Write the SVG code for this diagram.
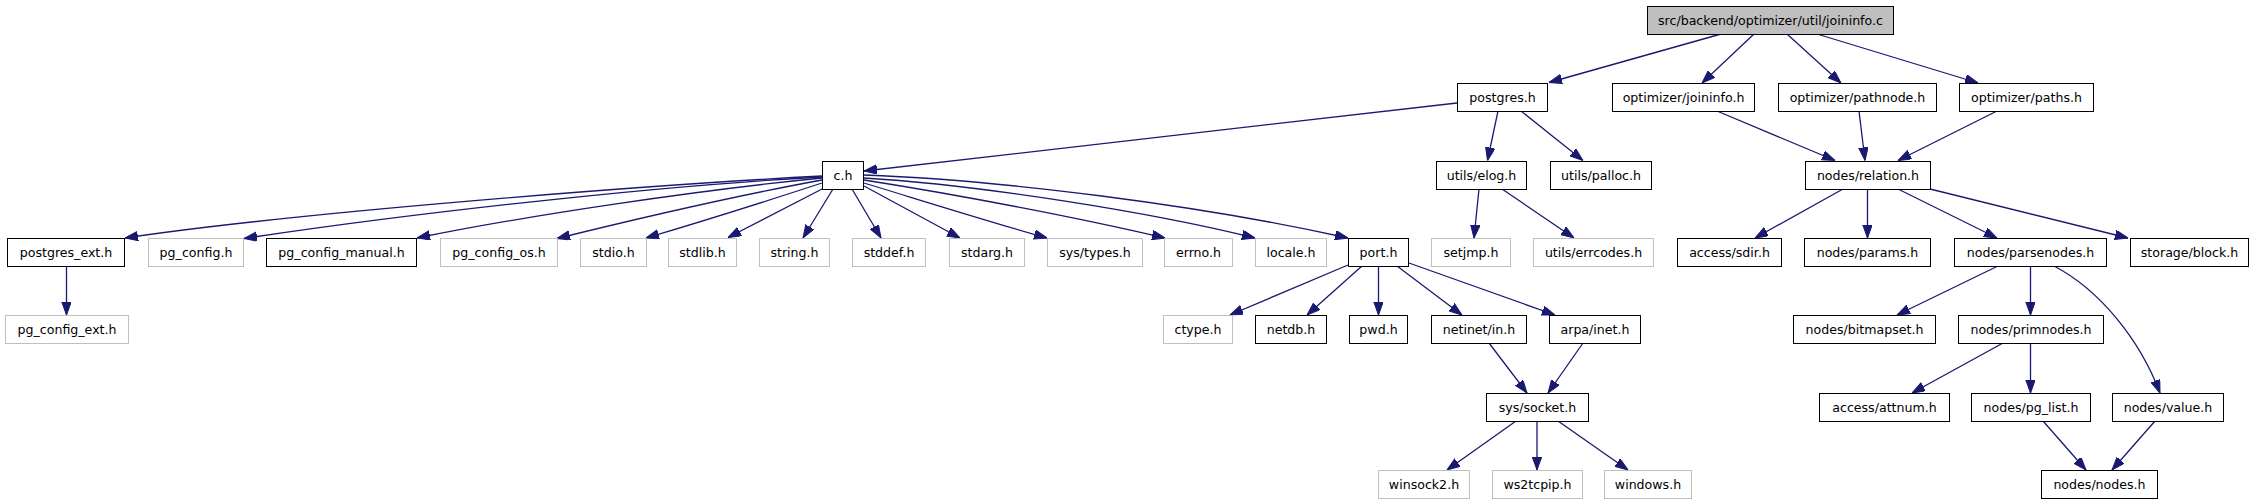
<svg xmlns="http://www.w3.org/2000/svg" width="2256" height="504" viewBox="0 0 2256 504">
<style>
.n rect{fill:#fff;stroke:#000;stroke-width:1}
.g rect{fill:#fff;stroke:#bfbfbf;stroke-width:1}
.r rect{fill:#bfbfbf;stroke:#000;stroke-width:1}
text{font-family:"DejaVu Sans","Liberation Sans",sans-serif;font-size:12.6px;text-anchor:middle;fill:#000}
#edges path{fill:none;stroke:#191970;stroke-width:1.3;marker-end:url(#a)}
</style>
<defs>
<marker id="a" markerWidth="13" markerHeight="10" refX="13" refY="4.7" orient="auto" markerUnits="userSpaceOnUse"><path d="M0,0L13,4.7L0,9.4z" fill="#191970" stroke="#191970" stroke-width="1"/></marker>
</defs>
<rect width="2256" height="504" fill="#fff"/>
<g id="edges">
<path d="M1721,34L1549,82.5"/>
<path d="M1754,34L1702,83"/>
<path d="M1787,34L1841,83"/>
<path d="M1817,34L1978,83"/>
<path d="M1457,103L864,171"/>
<path d="M1498,111L1487.5,160.5"/>
<path d="M1521,111L1583,160.5"/>
<path d="M1717,111L1835,160.5"/>
<path d="M1859,111L1865,160.5"/>
<path d="M1997,111L1898,160.5"/>
<path d="M1479,189L1474,238"/>
<path d="M1502,189L1574,238"/>
<path d="M1843,189L1755,238"/>
<path d="M1867.5,189L1867.5,238"/>
<path d="M1898,189L1997,238"/>
<path d="M1930,189L2128,238"/>
<path d="M1998,266L1897,315"/>
<path d="M2030.5,266L2030.5,315"/>
<path d="M2054,266C2100,290 2140,340 2160,393"/>
<path d="M2003,343L1912,393"/>
<path d="M2030.5,343L2030.5,393"/>
<path d="M2043,421L2086,470"/>
<path d="M2155,421L2112,470"/>
<path d="M822,176C650,185 300,212 125,238"/>
<path d="M822,177C650,186 400,215 244,238.5"/>
<path d="M822,178C700,190 530,215 417,238"/>
<path d="M822,180C740,195 640,218 557,238.5"/>
<path d="M822,183C770,200 700,222 646,238"/>
<path d="M824,188L728,237.5"/>
<path d="M833,189L803,238"/>
<path d="M852,189L881,238"/>
<path d="M864,186L960,238"/>
<path d="M864,183C920,200 990,222 1047,238"/>
<path d="M864,180C960,195 1080,218 1165,238"/>
<path d="M864,178C980,185 1150,212 1255,238"/>
<path d="M864,175C1000,180 1200,205 1348,238"/>
<path d="M66.5,266L66.5,315"/>
<path d="M1348,265L1230,315"/>
<path d="M1362,266L1307,315"/>
<path d="M1378.5,266L1378.5,315"/>
<path d="M1397,266L1462,315"/>
<path d="M1409,263L1555,315"/>
<path d="M1489,343L1527,393"/>
<path d="M1583,343L1548,393"/>
<path d="M1516,421L1447,470"/>
<path d="M1537,421L1537,470"/>
<path d="M1558,421L1628,470"/>
</g>
<g id="root" class="r"><rect x="1647.5" y="6.5" width="246" height="28"/><text x="1770.5" y="25.2">src/backend/optimizer/util/joininfo.c</text></g>
<g id="postgres_h" class="n"><rect x="1457.5" y="83.5" width="90" height="28"/><text x="1502.5" y="102.2">postgres.h</text></g>
<g id="joininfo_h" class="n"><rect x="1612.5" y="83.5" width="142" height="28"/><text x="1683.5" y="102.2">optimizer/joininfo.h</text></g>
<g id="pathnode_h" class="n"><rect x="1778.5" y="83.5" width="158" height="28"/><text x="1857.5" y="102.2">optimizer/pathnode.h</text></g>
<g id="paths_h" class="n"><rect x="1959.5" y="83.5" width="134" height="28"/><text x="2026.5" y="102.2">optimizer/paths.h</text></g>
<g id="c_h" class="n"><rect x="822.5" y="161.5" width="41" height="28"/><text x="843" y="180.2">c.h</text></g>
<g id="elog_h" class="n"><rect x="1436.5" y="161.5" width="90" height="28"/><text x="1481.5" y="180.2">utils/elog.h</text></g>
<g id="palloc_h" class="n"><rect x="1550.5" y="161.5" width="101" height="28"/><text x="1601" y="180.2">utils/palloc.h</text></g>
<g id="relation_h" class="n"><rect x="1805.5" y="161.5" width="125" height="28"/><text x="1868" y="180.2">nodes/relation.h</text></g>
<g id="postgres_ext_h" class="n"><rect x="7.5" y="238.5" width="117" height="28"/><text x="66" y="257.2">postgres_ext.h</text></g>
<g id="pg_config_h" class="g"><rect x="148.5" y="238.5" width="95" height="28"/><text x="196" y="257.2">pg_config.h</text></g>
<g id="pg_config_manual_h" class="n"><rect x="266.5" y="238.5" width="150" height="28"/><text x="341.5" y="257.2">pg_config_manual.h</text></g>
<g id="pg_config_os_h" class="g"><rect x="440.5" y="238.5" width="117" height="28"/><text x="499" y="257.2">pg_config_os.h</text></g>
<g id="stdio_h" class="g"><rect x="580.5" y="238.5" width="66" height="28"/><text x="613.5" y="257.2">stdio.h</text></g>
<g id="stdlib_h" class="g"><rect x="668.5" y="238.5" width="68" height="28"/><text x="702.5" y="257.2">stdlib.h</text></g>
<g id="string_h" class="g"><rect x="759.5" y="238.5" width="70" height="28"/><text x="794.5" y="257.2">string.h</text></g>
<g id="stddef_h" class="g"><rect x="852.5" y="238.5" width="73" height="28"/><text x="889" y="257.2">stddef.h</text></g>
<g id="stdarg_h" class="g"><rect x="949.5" y="238.5" width="75" height="28"/><text x="987" y="257.2">stdarg.h</text></g>
<g id="sys_types_h" class="g"><rect x="1047.5" y="238.5" width="95" height="28"/><text x="1095" y="257.2">sys/types.h</text></g>
<g id="errno_h" class="g"><rect x="1164.5" y="238.5" width="68" height="28"/><text x="1198.5" y="257.2">errno.h</text></g>
<g id="locale_h" class="g"><rect x="1255.5" y="238.5" width="71" height="28"/><text x="1291" y="257.2">locale.h</text></g>
<g id="port_h" class="n"><rect x="1348.5" y="238.5" width="60" height="28"/><text x="1378.5" y="257.2">port.h</text></g>
<g id="setjmp_h" class="g"><rect x="1431.5" y="238.5" width="79" height="28"/><text x="1471" y="257.2">setjmp.h</text></g>
<g id="errcodes_h" class="g"><rect x="1533.5" y="238.5" width="120" height="28"/><text x="1593.5" y="257.2">utils/errcodes.h</text></g>
<g id="sdir_h" class="n"><rect x="1677.5" y="238.5" width="104" height="28"/><text x="1729.5" y="257.2">access/sdir.h</text></g>
<g id="params_h" class="n"><rect x="1804.5" y="238.5" width="126" height="28"/><text x="1867.5" y="257.2">nodes/params.h</text></g>
<g id="parsenodes_h" class="n"><rect x="1954.5" y="238.5" width="152" height="28"/><text x="2030.5" y="257.2">nodes/parsenodes.h</text></g>
<g id="block_h" class="n"><rect x="2130.5" y="238.5" width="118" height="28"/><text x="2189.5" y="257.2">storage/block.h</text></g>
<g id="pg_config_ext_h" class="g"><rect x="5.5" y="315.5" width="123" height="28"/><text x="67" y="334.2">pg_config_ext.h</text></g>
<g id="ctype_h" class="g"><rect x="1163.5" y="315.5" width="69" height="28"/><text x="1198" y="334.2">ctype.h</text></g>
<g id="netdb_h" class="n"><rect x="1255.5" y="315.5" width="71" height="28"/><text x="1291" y="334.2">netdb.h</text></g>
<g id="pwd_h" class="n"><rect x="1349.5" y="315.5" width="58" height="28"/><text x="1378.5" y="334.2">pwd.h</text></g>
<g id="netinet_in_h" class="n"><rect x="1431.5" y="315.5" width="95" height="28"/><text x="1479" y="334.2">netinet/in.h</text></g>
<g id="arpa_inet_h" class="n"><rect x="1549.5" y="315.5" width="91" height="28"/><text x="1595" y="334.2">arpa/inet.h</text></g>
<g id="bitmapset_h" class="n"><rect x="1793.5" y="315.5" width="142" height="28"/><text x="1864.5" y="334.2">nodes/bitmapset.h</text></g>
<g id="primnodes_h" class="n"><rect x="1958.5" y="315.5" width="145" height="28"/><text x="2031" y="334.2">nodes/primnodes.h</text></g>
<g id="socket_h" class="n"><rect x="1486.5" y="393.5" width="102" height="28"/><text x="1537.5" y="412.2">sys/socket.h</text></g>
<g id="attnum_h" class="n"><rect x="1819.5" y="393.5" width="130" height="28"/><text x="1884.5" y="412.2">access/attnum.h</text></g>
<g id="pg_list_h" class="n"><rect x="1971.5" y="393.5" width="119" height="28"/><text x="2031" y="412.2">nodes/pg_list.h</text></g>
<g id="value_h" class="n"><rect x="2112.5" y="393.5" width="111" height="28"/><text x="2168" y="412.2">nodes/value.h</text></g>
<g id="winsock2_h" class="g"><rect x="1378.5" y="470.5" width="91" height="28"/><text x="1424" y="489.2">winsock2.h</text></g>
<g id="ws2tcpip_h" class="g"><rect x="1492.5" y="470.5" width="90" height="28"/><text x="1537.5" y="489.2">ws2tcpip.h</text></g>
<g id="windows_h" class="g"><rect x="1604.5" y="470.5" width="87" height="28"/><text x="1648" y="489.2">windows.h</text></g>
<g id="nodes_h" class="n"><rect x="2041.5" y="470.5" width="116" height="28"/><text x="2099.5" y="489.2">nodes/nodes.h</text></g>
</svg>
